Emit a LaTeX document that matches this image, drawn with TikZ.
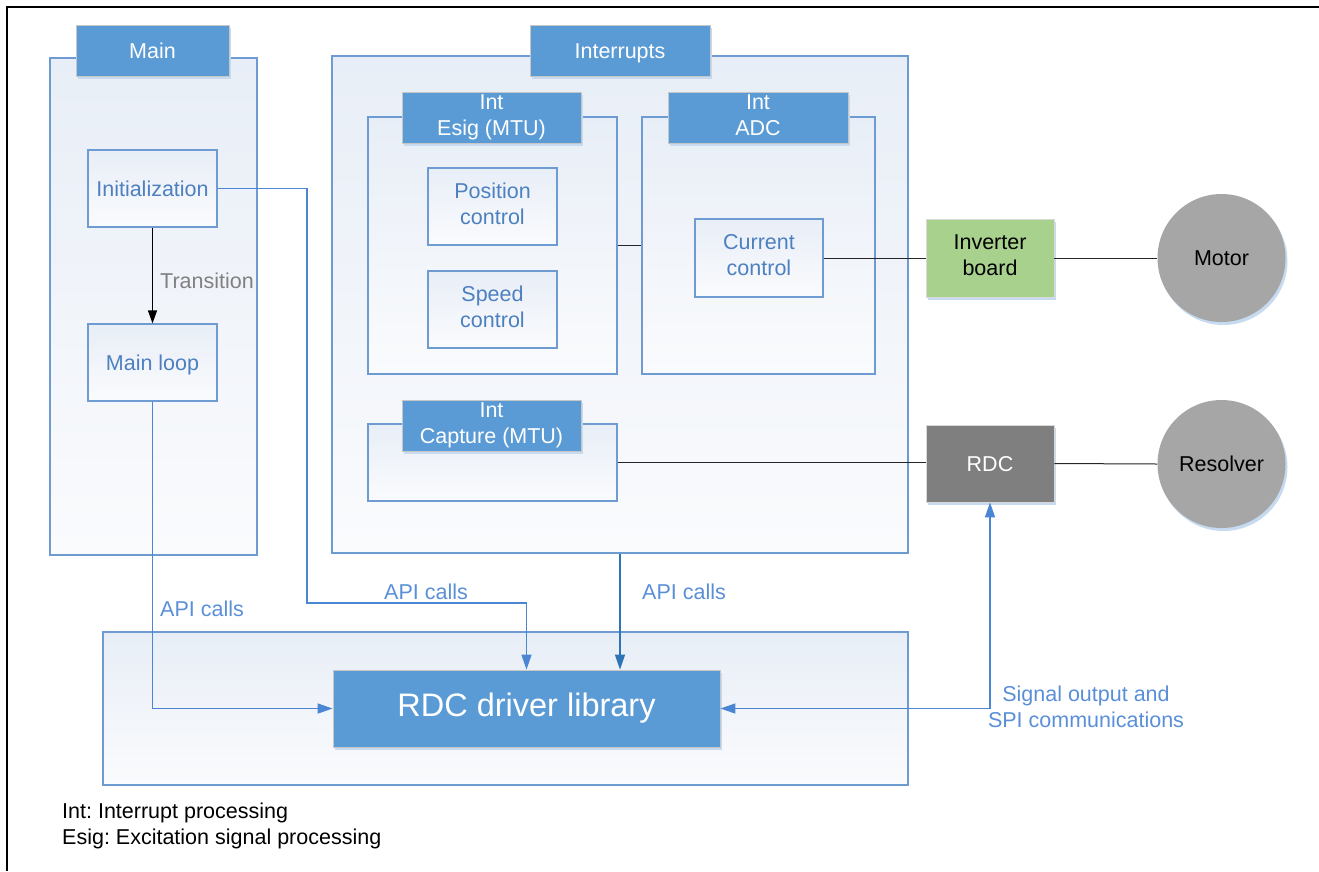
\documentclass[tikz,border=0pt]{standalone}
\usepackage{fontspec}
\setmainfont{Liberation Sans}
\usetikzlibrary{arrows.meta,shadows}
\frenchspacing
\newcommand\boxstrut{\rule[-5.4pt]{0pt}{26pt}}
\definecolor{hdr}{HTML}{5B9BD5}
\definecolor{shd}{HTML}{C6DAF0}
\definecolor{edge}{HTML}{6E9CD2}
\definecolor{txtb}{HTML}{4D80C0}
\definecolor{lnb}{HTML}{4A86D4}
\definecolor{lnd}{HTML}{2E75B6}
\definecolor{gtop}{HTML}{E8EEF7}
\definecolor{gbot}{HTML}{FAFBFD}
\definecolor{invg}{HTML}{A9D18E}
\definecolor{circ}{HTML}{A6A6A6}
\definecolor{rdcg}{HTML}{7F7F7F}
\definecolor{lbl}{HTML}{5A8FD8}
\tikzset{
  base/.style={inner sep=0pt, align=center, font=\fontsize{21.5}{26}\selectfont,
    execute at begin node=\boxstrut, execute at end node=\boxstrut},
  cont/.style={base, draw=edge, line width=1.2pt, top color=gtop, bottom color=gbot},
  inbox/.style={cont, text=txtb},
  shad/.style={drop shadow={shadow xshift=2pt, shadow yshift=-3pt, fill=shd, opacity=1}},
  hdrbox/.style={base, shad, draw=black!22, line width=0.8pt, fill=hdr, text=white},
  devbox/.style={base, shad, draw=black!15, line width=0.8pt},
  dev/.style={base, shad, circle, fill=circ, text=black, minimum size=128pt},
  conn/.style={line width=1.5pt, draw=lnb, -{Triangle[length=15pt,width=10pt]}},
  wire/.style={line width=1pt, draw=black!85},
  lab/.style={inner sep=0pt, font=\fontsize{21.5}{26}\selectfont, text=lbl},
}
\begin{document}
\begin{tikzpicture}[x=1pt,y=-1pt]
\useasboundingbox (0,0) rectangle (1319,871);
\draw[line width=2pt] (1319,7) -- (7,7) -- (7,871);

% Main
\node[cont, minimum width=207pt, minimum height=497pt] (main) at (153.5,306.5) {};
\node[hdrbox, minimum width=153pt, minimum height=51pt] (mainhdr) at (152.5,50.5) {Main};
\node[inbox, minimum width=129pt, minimum height=77pt] (init) at (152.5,188.5) {Initialization};
\node[inbox, minimum width=129pt, minimum height=77pt] (mloop) at (152.5,362.5) {Main loop};

% Interrupts
\node[cont, minimum width=576pt, minimum height=497pt] (intr) at (620,304.5) {};
\node[hdrbox, minimum width=180pt, minimum height=51pt] (intrhdr) at (620,50.5) {Interrupts};
\node[cont, minimum width=249pt, minimum height=257pt] (esig) at (492.5,245.5) {};
\node[hdrbox, minimum width=179pt, minimum height=51pt] (esighdr) at (491.5,117.5) {Int\\Esig (MTU)};
\node[cont, minimum width=233pt, minimum height=257pt] (adc) at (758.5,245.5) {};
\node[hdrbox, minimum width=180pt, minimum height=51pt] (adchdr) at (758,117.5) {Int\\ADC};
\node[inbox, minimum width=129pt, minimum height=77pt] (pos) at (492.5,206.5) {Position\\control};
\node[inbox, minimum width=129pt, minimum height=77pt] (spd) at (492.5,309.5) {Speed\\control};
\node[inbox, minimum width=128pt, minimum height=78pt] (cur) at (759,258) {Current\\control};
\node[cont, minimum width=249pt, minimum height=77pt] (cap) at (492.5,462.5) {};
\node[hdrbox, minimum width=179pt, minimum height=51pt] (caphdr) at (491.5,425.5) {Int\\Capture (MTU)};

% Devices
\node[devbox, fill=invg, text=black, minimum width=128pt, minimum height=78pt] (inv) at (990,258) {Inverter\\board};
\node[dev] (motor) at (1221.5,258) {Motor};
\node[devbox, fill=rdcg, text=white, minimum width=128pt, minimum height=77pt] (rdc) at (990,463.5) {RDC};
\node[dev] (resolver) at (1221.5,464) {Resolver};

% Library
\node[cont, minimum width=805pt, minimum height=153pt] (libc) at (505.5,708.5) {};
\node[hdrbox, font=\fontsize{32.5}{38}\selectfont, execute at begin node={}, execute at end node={}, minimum width=387pt, minimum height=77pt] (lib) at (526.5,708.5) {RDC driver library};

% Wires
\draw[wire] (esig.east) -- (adc.west);
\draw[wire] (cur.east) -- (inv.west);
\draw[wire] (inv.east) -- (motor.west);
\draw[wire] (cap.east) -- (cap.east -| rdc.west);
\draw[wire] (rdc.east) -- (resolver.west);

% Transition
\draw[line width=1.3pt, black, -{Triangle[length=13pt,width=9pt]}] (init.south) -- (mloop.north);
\node[lab, text=black!50, anchor=west] (trans) at (160,281) {Transition};

% API calls
\draw[conn] (mloop.south) -- (mloop.south |- lib.west) -- (lib.west);
\coordinate (c1) at (307,603);
\draw[conn] (init.east) -| (c1) -- (c1 -| lib.north) -- (lib.north);
\draw[conn, draw=lnd, -{Triangle[length=15pt,width=10pt,fill=lnd]}] (intr.south) -- (intr.south |- lib.north);
\draw[line width=1.5pt, draw=lnb, {Triangle[length=15pt,width=10pt]}-{Triangle[length=15pt,width=10pt]}] (lib.east) -- (lib.east -| rdc.south) -- (rdc.south);

\node[lab, anchor=west] (api1) at (160,609) {API calls};
\node[lab, anchor=west] (api2) at (384,592) {API calls};
\node[lab, anchor=west] (api3) at (642,592) {API calls};
\node[lab, align=center] (sig) at (1086,707) {Signal output and\\SPI communications};

% Legend
\node[lab, text=black, anchor=west] (leg1) at (62,813) {Int: Interrupt processing};
\node[lab, text=black, anchor=west] (leg2) at (62,839) {Esig: Excitation signal processing};
\end{tikzpicture}
\end{document}
